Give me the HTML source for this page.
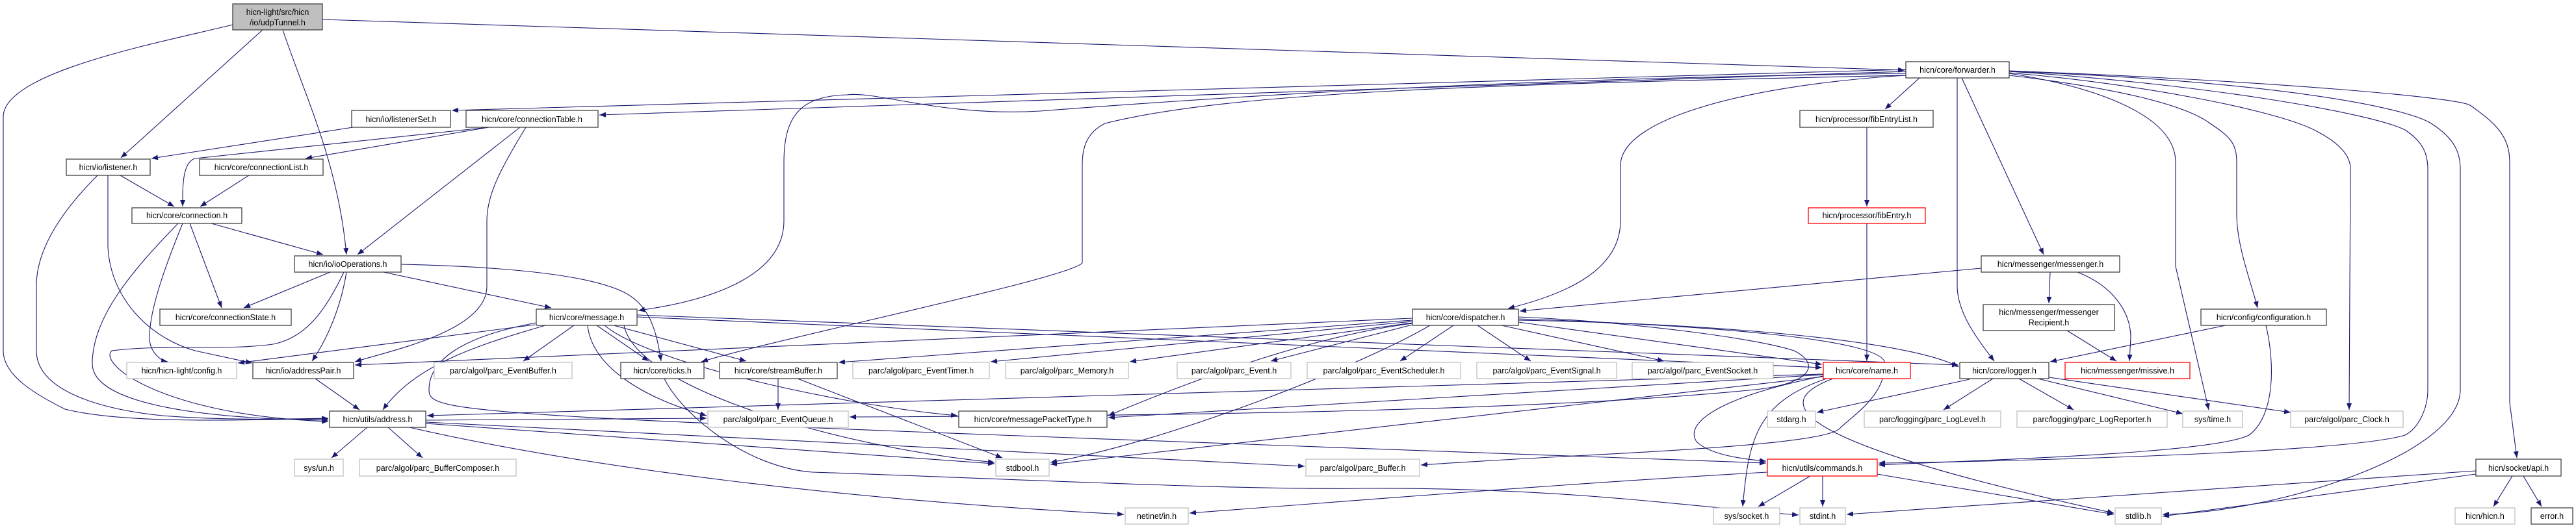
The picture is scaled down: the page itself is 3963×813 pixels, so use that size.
<!DOCTYPE html>
<html><head><meta charset="utf-8"><style>
html,body{margin:0;padding:0;background:#fff;}
svg{display:block;}
text{font-family:"Liberation Sans",sans-serif;font-size:12.5px;fill:#000;text-anchor:middle;}
.e{fill:none;stroke:#191970;stroke-width:1.1;marker-end:url(#a);}
.b{fill:#fff;stroke:#404040;stroke-width:1.3;}
.g{fill:#fff;stroke:#bfbfbf;stroke-width:1.3;}
.r{fill:#fff;stroke:#ff0000;stroke-width:1.3;}
.root{fill:#bfbfbf;stroke:#404040;stroke-width:1.3;}
</style></head><body>
<svg width="3963" height="813" viewBox="0 0 3963 813" xmlns="http://www.w3.org/2000/svg">
<defs><marker id="a" markerUnits="userSpaceOnUse" markerWidth="11" markerHeight="8" refX="10" refY="4" orient="auto"><path d="M0,0 L10,4 L0,8 z" fill="#191970"/></marker></defs>
<g>
<!-- udpTunnel -->
<path class="e" d="M496,30 L2930,108"/>
<path class="e" d="M404,46 L186,243"/>
<path class="e" d="M435,46 C470,150 520,250 533,392"/>
<path class="e" d="M358,38 C250,65 5,110 5,180 L5,540 C5,580 60,610 100,630 C200,655 400,645 505,645"/>
<!-- forwarder -->
<path class="e" d="M2932,107 L695,170"/>
<path class="e" d="M2932,110 L922,177"/>
<path class="e" d="M2932,113 C2400,120 2000,140 1600,171 C1450,180 1350,140 1303,146 C1230,148 1206,180 1206,250 L1206,340 C1206,430 1080,465 982,478"/>
<path class="e" d="M2932,116 C2300,130 1900,140 1700,190 C1670,205 1665,230 1665,254 L1665,405 C1640,430 1200,520 1079,557"/>
<path class="e" d="M2953,120 L2900,168"/>
<path class="e" d="M2932,116 C2700,130 2493,180 2493,255 L2493,340 C2493,420 2400,455 2320,475"/>
<path class="e" d="M3018,120 L3144,392"/>
<path class="e" d="M3011,120 L3011,440 C3011,480 3040,520 3068,556"/>
<path class="e" d="M3091,113 C3200,130 3347,170 3347,250 L3347,410 L3398,631"/>
<path class="e" d="M3091,116 C3250,135 3360,160 3400,190 C3430,210 3441,220 3441,250 L3441,330 C3441,380 3465,440 3473,474"/>
<path class="e" d="M3091,112 C3300,130 3500,170 3560,200 C3600,220 3616,240 3616,260 L3614,631"/>
<path class="e" d="M3091,110 C3400,130 3650,175 3700,200 C3730,220 3735,240 3735,260 L3735,600 C3735,630 3720,660 3700,670 C3600,700 3000,712 2890,713"/>
<path class="e" d="M3091,110 C3500,125 3700,165 3740,190 C3780,215 3785,240 3785,260 L3785,600 C3785,700 3500,790 3327,792"/>
<path class="e" d="M3091,109 C3500,125 3780,150 3800,162 C3840,190 3861,210 3861,250 L3861,620 L3872,705"/>
<!-- connectionTable / listenerSet -->
<path class="e" d="M543,196 L233,244"/>
<path class="e" d="M752,196 L300,244 C280,250 281,290 281,318"/>
<path class="e" d="M752,196 L470,244"/>
<path class="e" d="M800,196 L550,392"/>
<path class="e" d="M809,196 C770,260 749,300 749,340 L749,441 C749,510 600,540 546,557"/>
<!-- listener / connectionList / connection -->
<path class="e" d="M185,270 L268,318"/>
<path class="e" d="M150,270 C100,320 56,380 56,440 L56,540 C56,600 150,630 250,640 C350,648 450,645 505,644"/>
<path class="e" d="M166,270 L166,380 C170,460 230,520 300,540 L388,559"/>
<path class="e" d="M383,270 L308,318"/>
<path class="e" d="M325,344 L497,392"/>
<path class="e" d="M292,344 L341,474"/>
<path class="e" d="M281,344 C250,420 230,480 230,520 C230,540 245,555 258,557"/>
<path class="e" d="M274,344 C200,420 142,490 142,560 C142,620 300,645 505,647"/>
<!-- ioOperations -->
<path class="e" d="M508,419 L375,474"/>
<path class="e" d="M590,419 L848,474"/>
<path class="e" d="M533,419 C525,470 505,520 480,556"/>
<path class="e" d="M529,419 C500,480 470,520 420,530 C350,540 250,530 172,540 C150,560 250,640 505,649"/>
<path class="e" d="M617,407 C750,410 900,420 960,450 C1000,470 1010,510 1017,556"/>
<!-- message -->
<path class="e" d="M823,500 L366,559"/>
<path class="e" d="M883,501 L805,556"/>
<path class="e" d="M918,501 L998,556"/>
<path class="e" d="M839,501 C740,530 640,560 589,631"/>
<path class="e" d="M944,501 L1148,556"/>
<path class="e" d="M904,501 C910,560 980,610 1087,640"/>
<path class="e" d="M930,501 C1000,560 1300,625 1473,640"/>
<path class="e" d="M980,485 L3013,562"/>
<path class="e" d="M980,488 L2803,566"/>
<path class="e" d="M960,501 C980,600 1300,690 1530,712"/>
<path class="e" d="M825,497 C700,520 660,560 660,600 C660,640 700,640 2717,713"/>
<!-- dispatcher -->
<path class="e" d="M2236,501 L2154,556"/>
<path class="e" d="M2273,501 L2355,556"/>
<path class="e" d="M2310,501 L2560,556"/>
<path class="e" d="M2173,500 L1955,556"/>
<path class="e" d="M2173,497 L1738,557"/>
<path class="e" d="M2173,495 L1524,557"/>
<path class="e" d="M2173,493 L1290,558"/>
<path class="e" d="M2173,490 L546,562"/>
<path class="e" d="M2336,493 C2700,500 2950,530 3013,565"/>
<path class="e" d="M2336,496 L2803,561"/>
<path class="e" d="M2336,488 C2500,495 2700,520 2760,540 C2800,560 2790,590 2700,600 C2400,630 1900,640 1307,642"/>
<path class="e" d="M2173,498 C2000,520 1800,600 1705,640"/>
<path class="e" d="M2200,501 C2100,560 1800,680 1616,712"/>
<path class="e" d="M2336,491 C2600,500 2900,520 2900,560 C2900,610 2850,640 2830,660 C2800,690 2400,700 2186,716"/>
<!-- messenger etc. -->
<path class="e" d="M3048,413 L2338,479"/>
<path class="e" d="M3154,419 L3152,467"/>
<path class="e" d="M3196,419 C3250,440 3278,480 3278,520 L3276,556"/>
<path class="e" d="M3180,509 L3256,556"/>
<path class="e" d="M3424,501 L3154,557"/>
<path class="e" d="M3486,501 C3500,560 3500,640 3460,670 C3400,700 3000,710 2890,716"/>
<path class="e" d="M2872,196 L2872,318"/>
<path class="e" d="M2872,344 L2872,556"/>
<!-- logger -->
<path class="e" d="M3066,583 L2990,631"/>
<path class="e" d="M3106,583 L3190,631"/>
<path class="e" d="M3135,583 L3358,637"/>
<path class="e" d="M3152,581 L3524,635"/>
<path class="e" d="M3030,584 L2795,635"/>
<!-- name -->
<path class="e" d="M2805,579 C2650,610 2590,650 2610,680 C2630,700 2680,707 2717,710"/>
<path class="e" d="M2810,583 C2700,620 2690,680 2681,780"/>
<path class="e" d="M2820,583 C2720,620 2750,680 3252,790"/>
<path class="e" d="M2805,576 L657,640"/>
<path class="e" d="M2805,577 L1705,643"/>
<path class="e" d="M2805,580 L1616,715"/>
<!-- streamBuffer, ticks, addressPair, address -->
<path class="e" d="M1197,583 L1197,631"/>
<path class="e" d="M1227,583 L1542,705"/>
<path class="e" d="M1022,583 C1050,640 1150,720 1250,727 C1500,735 1900,755 2100,752 C2400,750 2600,780 2767,793"/>
<path class="e" d="M485,583 L553,631"/>
<path class="e" d="M565,658 L510,705"/>
<path class="e" d="M597,658 L650,705"/>
<path class="e" d="M630,658 C900,720 1300,770 1729,792"/>
<path class="e" d="M655,652 L1530,714"/>
<path class="e" d="M655,650 L2007,718"/>
<path class="e" d="M655,647 L1087,644"/>
<!-- commands, api -->
<path class="e" d="M2785,733 L2705,780"/>
<path class="e" d="M2804,733 L2804,780"/>
<path class="e" d="M2719,727 C2400,745 2100,770 1830,790"/>
<path class="e" d="M2888,730 L3252,792"/>
<path class="e" d="M3865,733 L3836,780"/>
<path class="e" d="M3882,733 L3910,780"/>
<path class="e" d="M3809,730 L3327,795"/>
<path class="e" d="M3809,725 L2841,792"/>
</g>
<g>
<rect class="root" x="358" y="6" width="138" height="40"/><text x="427" y="23">hicn-light/src/hicn</text><text x="427" y="39">/io/udpTunnel.h</text>
<rect class="b" x="2932" y="95" width="159" height="25"/><text x="3011.5" y="112">hicn/core/forwarder.h</text>
<rect class="b" x="541" y="170" width="152" height="26"/><text x="617" y="188">hicn/io/listenerSet.h</text>
<rect class="b" x="717" y="170" width="203" height="26"/><text x="818.5" y="188">hicn/core/connectionTable.h</text>
<rect class="b" x="2769" y="170" width="205" height="26"/><text x="2871.5" y="188">hicn/processor/fibEntryList.h</text>
<rect class="b" x="102" y="245" width="129" height="25"/><text x="166.5" y="262">hicn/io/listener.h</text>
<rect class="b" x="307" y="245" width="190" height="25"/><text x="402" y="262">hicn/core/connectionList.h</text>
<rect class="b" x="203" y="320" width="169" height="24"/><text x="287.5" y="336">hicn/core/connection.h</text>
<rect class="r" x="2782" y="320" width="180" height="24"/><text x="2872" y="336">hicn/processor/fibEntry.h</text>
<rect class="b" x="453" y="394" width="164" height="25"/><text x="535" y="411">hicn/io/ioOperations.h</text>
<rect class="b" x="3048" y="394" width="213" height="25"/><text x="3154.5" y="411">hicn/messenger/messenger.h</text>
<rect class="b" x="246" y="476" width="202" height="25"/><text x="347" y="493">hicn/core/connectionState.h</text>
<rect class="b" x="825" y="476" width="155" height="25"/><text x="902.5" y="493">hicn/core/message.h</text>
<rect class="b" x="2173" y="476" width="163" height="25"/><text x="2254.5" y="493">hicn/core/dispatcher.h</text>
<rect class="b" x="3051" y="469" width="202" height="40"/><text x="3152" y="485">hicn/messenger/messenger</text><text x="3152" y="501">Recipient.h</text>
<rect class="b" x="3386" y="476" width="193" height="25"/><text x="3482.5" y="493">hicn/config/configuration.h</text>
<rect class="g" x="195" y="558" width="169" height="25"/><text x="279.5" y="575">hicn/hicn-light/config.h</text>
<rect class="b" x="389" y="558" width="155" height="25"/><text x="466.5" y="575">hicn/io/addressPair.h</text>
<rect class="g" x="668" y="558" width="212" height="25"/><text x="774" y="575">parc/algol/parc_EventBuffer.h</text>
<rect class="b" x="955" y="558" width="128" height="25"/><text x="1019" y="575">hicn/core/ticks.h</text>
<rect class="b" x="1107" y="558" width="181" height="25"/><text x="1197.5" y="575">hicn/core/streamBuffer.h</text>
<rect class="g" x="1312" y="558" width="210" height="25"/><text x="1417" y="575">parc/algol/parc_EventTimer.h</text>
<rect class="g" x="1547" y="558" width="189" height="25"/><text x="1641.5" y="575">parc/algol/parc_Memory.h</text>
<rect class="g" x="1811" y="558" width="175" height="25"/><text x="1898.5" y="575">parc/algol/parc_Event.h</text>
<rect class="g" x="2011" y="558" width="236" height="25"/><text x="2129" y="575">parc/algol/parc_EventScheduler.h</text>
<rect class="g" x="2272" y="558" width="215" height="25"/><text x="2379.5" y="575">parc/algol/parc_EventSignal.h</text>
<rect class="g" x="2511" y="558" width="217" height="25"/><text x="2619.5" y="575">parc/algol/parc_EventSocket.h</text>
<rect class="r" x="2805" y="558" width="134" height="25"/><text x="2872" y="575">hicn/core/name.h</text>
<rect class="b" x="3015" y="558" width="137" height="25"/><text x="3083.5" y="575">hicn/core/logger.h</text>
<rect class="r" x="3177" y="558" width="192" height="25"/><text x="3273" y="575">hicn/messenger/missive.h</text>
<rect class="b" x="507" y="633" width="148" height="25"/><text x="581" y="650">hicn/utils/address.h</text>
<rect class="g" x="1089" y="633" width="216" height="25"/><text x="1197" y="650">parc/algol/parc_EventQueue.h</text>
<rect class="b" x="1475" y="633" width="228" height="25"/><text x="1589" y="650">hicn/core/messagePacketType.h</text>
<rect class="g" x="2719" y="633" width="74" height="25"/><text x="2756" y="650">stdarg.h</text>
<rect class="g" x="2868" y="633" width="210" height="25"/><text x="2973" y="650">parc/logging/parc_LogLevel.h</text>
<rect class="g" x="3103" y="633" width="231" height="25"/><text x="3218.5" y="650">parc/logging/parc_LogReporter.h</text>
<rect class="g" x="3358" y="633" width="92" height="25"/><text x="3404" y="650">sys/time.h</text>
<rect class="g" x="3524" y="633" width="173" height="25"/><text x="3610.5" y="650">parc/algol/parc_Clock.h</text>
<rect class="g" x="453" y="707" width="75" height="26"/><text x="490.5" y="725">sys/un.h</text>
<rect class="g" x="553" y="707" width="241" height="26"/><text x="673.5" y="725">parc/algol/parc_BufferComposer.h</text>
<rect class="g" x="1532" y="707" width="82" height="26"/><text x="1573" y="725">stdbool.h</text>
<rect class="g" x="2009" y="707" width="175" height="26"/><text x="2096.5" y="725">parc/algol/parc_Buffer.h</text>
<rect class="r" x="2719" y="707" width="169" height="26"/><text x="2803.5" y="725">hicn/utils/commands.h</text>
<rect class="b" x="3809" y="707" width="131" height="26"/><text x="3874.5" y="725">hicn/socket/api.h</text>
<rect class="g" x="1731" y="782" width="97" height="25"/><text x="1779.5" y="799">netinet/in.h</text>
<rect class="g" x="2636" y="782" width="102" height="25"/><text x="2687" y="799">sys/socket.h</text>
<rect class="g" x="2769" y="782" width="70" height="25"/><text x="2804" y="799">stdint.h</text>
<rect class="g" x="3254" y="782" width="71" height="25"/><text x="3289.5" y="799">stdlib.h</text>
<rect class="g" x="3777" y="782" width="92" height="25"/><text x="3823" y="799">hicn/hicn.h</text>
<rect class="b" x="3894" y="782" width="64" height="25"/><text x="3926" y="799">error.h</text>
</g>
</svg>
</body></html>
